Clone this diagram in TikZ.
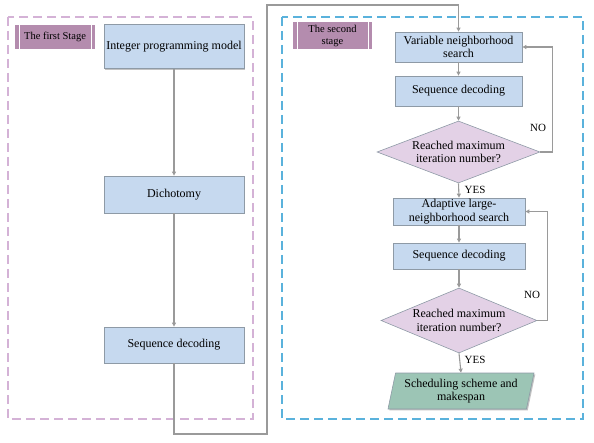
\documentclass[tikz,border=0pt]{standalone}
\usepackage{fontspec}
\setmainfont{Liberation Serif}
\usetikzlibrary{shapes.geometric,shadows,arrows.meta}
\definecolor{pinkdash}{HTML}{D4B2D6}
\definecolor{bluedash}{HTML}{5AB2DC}
\definecolor{labelfill}{HTML}{B48CAE}
\definecolor{boxfill}{HTML}{C6D9EF}
\definecolor{boxline}{HTML}{8E9AA6}
\definecolor{diafill}{HTML}{E3D1E6}
\definecolor{parafill}{HTML}{9CC5B5}
\definecolor{conn}{HTML}{9A9A9A}
\tikzset{
  shad/.style={drop shadow={shadow xshift=1.3pt,shadow yshift=-1.3pt,fill=black!40,opacity=0.6}},
  procbox/.style={rectangle,draw=boxline,line width=0.8pt,fill=boxfill,shad,align=center,inner sep=1pt,font=\fontsize{12}{13.5}\selectfont},
  decbox/.style={diamond,draw=boxline,line width=0.6pt,fill=diafill,align=center,inner sep=0pt,aspect=2.6,font=\fontsize{12}{13.5}\selectfont},
  iobox/.style={trapezium,trapezium left angle=74,trapezium right angle=106,trapezium stretches body,draw=boxline,line width=0.6pt,fill=parafill,shad,align=center,inner sep=1pt,font=\fontsize{12}{13.5}\selectfont},
  stagelabel/.style={rectangle,fill=labelfill,align=center,inner sep=1pt,font=\fontsize{10.5}{12}\selectfont},
  conline/.style={draw=conn,line width=1.1pt},
  arr/.style={conline,-{Triangle[length=4pt,width=4pt]}},
  anno/.style={font=\fontsize{11}{12}\selectfont,inner sep=0pt},
  stagebox/.style={dashed,dash pattern=on 9pt off 5pt}
}
\begin{document}
\begin{tikzpicture}[x=1pt,y=-1pt]
\useasboundingbox (0,0) rectangle (594,443);
% stage frames
\draw[stagebox,draw=pinkdash,line width=1.1pt] (8,17) rectangle (253,419);
\draw[stagebox,draw=bluedash,line width=1.3pt] (282,17) rectangle (583,419);
% stage labels
\node[stagelabel,minimum width=80pt,minimum height=24pt] (lab1) at (55,37) {The first Stage};
\draw[white,line width=0.6pt] ([xshift=4pt]lab1.north west) -- ([xshift=4pt]lab1.south west);
\draw[white,line width=0.6pt] ([xshift=-4pt]lab1.north east) -- ([xshift=-4pt]lab1.south east);
\node[stagelabel,minimum width=79pt,minimum height=27pt] (lab2) at (332.5,35.5) {The second\\stage};
\draw[white,line width=0.6pt] ([xshift=4pt]lab2.north west) -- ([xshift=4pt]lab2.south west);
\draw[white,line width=0.6pt] ([xshift=-4pt]lab2.north east) -- ([xshift=-4pt]lab2.south east);
% first stage
\node[procbox,minimum width=140pt,minimum height=44pt] (ipm) at (174,46.5) {Integer programming model};
\node[procbox,minimum width=140pt,minimum height=37pt] (dich) at (174,194.5) {Dichotomy};
\node[procbox,minimum width=140pt,minimum height=36pt] (sd1) at (174,345) {Sequence decoding};
% second stage
\node[procbox,minimum width=127pt,minimum height=30pt] (vns) at (458.5,47) {Variable neighborhood\\search};
\node[procbox,minimum width=127pt,minimum height=30pt] (sd2) at (458.5,91) {Sequence decoding};
\node[decbox,minimum width=163pt,minimum height=62pt] (d1) at (458.5,152) {Reached maximum\\iteration number?};
\node[procbox,minimum width=132pt,minimum height=27pt] (alns) at (459,211.5) {Adaptive large-\\neighborhood search};
\node[procbox,minimum width=132pt,minimum height=26pt] (sd3) at (459,256) {Sequence decoding};
\node[decbox,minimum width=156pt,minimum height=65pt] (d2) at (459,320.5) {Reached maximum\\iteration number?};
\node[iobox,minimum width=146pt,minimum height=36pt] (out) at (461,391) {Scheduling scheme and\\makespan};
% connectors
\draw[arr] (ipm.south) -- (dich.north);
\draw[arr] (dich.south) -- (sd1.north);
\coordinate (c1) at (267,434);
\coordinate (ctop) at (vns.north |- 0,5);
\draw[arr] (sd1.south) |- (c1) |- (ctop) -- (vns.north);
\draw[arr] (vns.south) -- (sd2.north);
\draw[arr] (sd2.south) -- (d1.north);
\draw[arr] (d1.east) -- ++(12,0) |- (vns.east);
\draw[arr] (d1.south) -- (alns.north);
\draw[arr] (alns.south) -- (sd3.north);
\draw[arr] (sd3.south) -- (d2.north);
\draw[arr] (d2.east) -- ++(10,0) |- (alns.east);
\draw[arr] (d2.south) -- (out.north);
% labels
\node[anno] (no1) at (538,128) {NO};
\node[anno] (yes1) at (475,190) {YES};
\node[anno] (no2) at (532,295) {NO};
\node[anno] (yes2) at (475,360) {YES};
\end{tikzpicture}
\end{document}
